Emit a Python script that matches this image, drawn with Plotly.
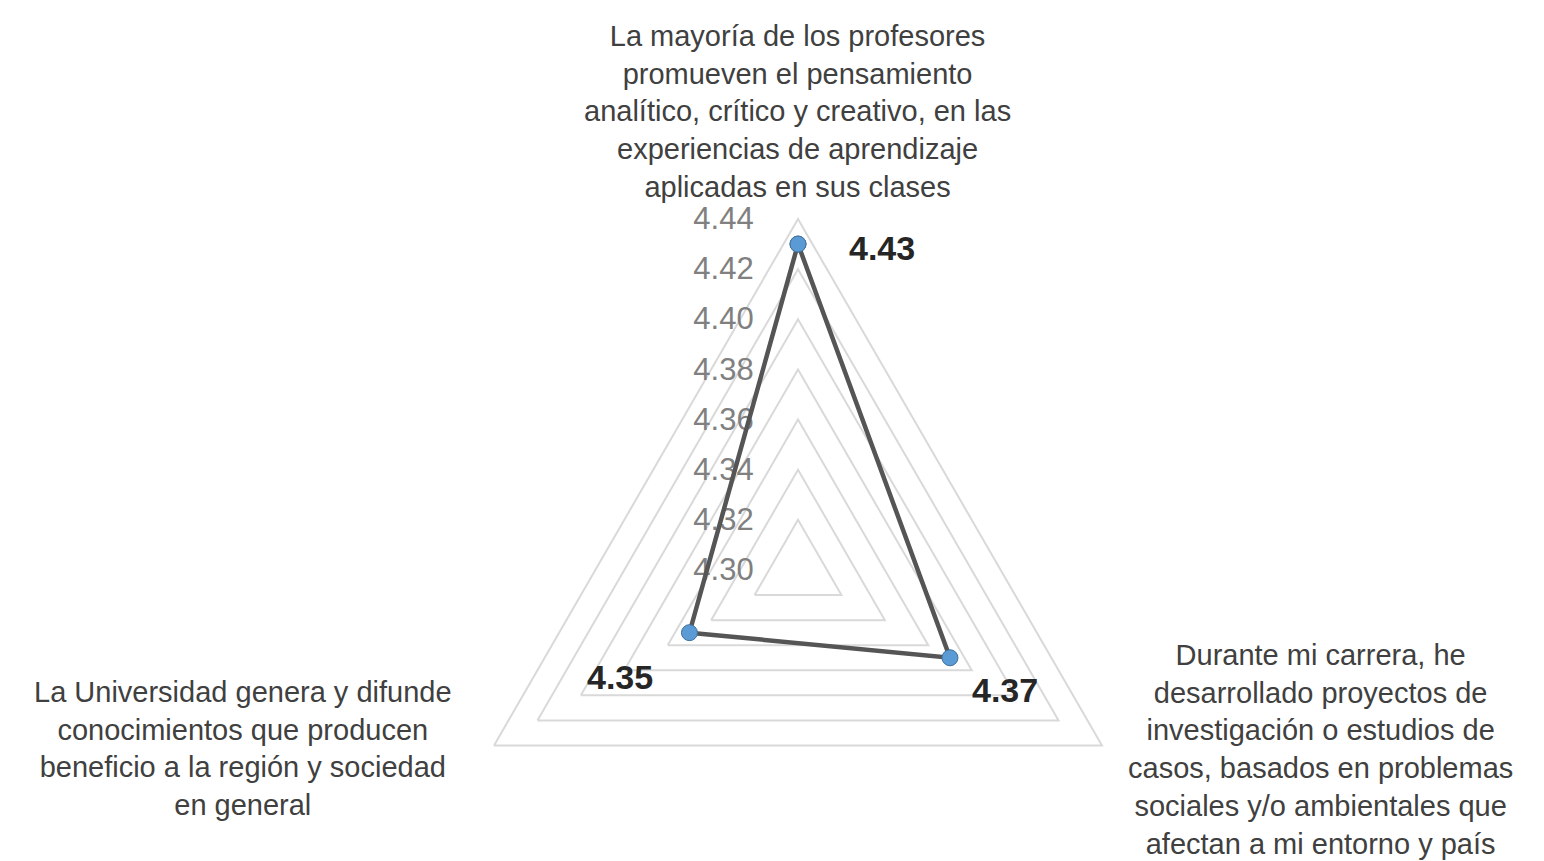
import plotly.graph_objects as go

# Survey items (one spoke each), mean scores and radial tick values
categories = [
    "La mayoría de los profesores<br>promueven el pensamiento<br>analítico, crítico y creativo, en las<br>experiencias de aprendizaje<br>aplicadas en sus clases",
    "Durante mi carrera, he<br>desarrollado proyectos de<br>investigación o estudios de<br>casos, basados en problemas<br>sociales y/o ambientales que<br>afectan a mi entorno y país",
    "La Universidad genera y difunde<br>conocimientos que producen<br>beneficio a la región y sociedad<br>en general",
]
scores = [4.43, 4.37, 4.35]
radial_ticks = [4.30, 4.32, 4.34, 4.36, 4.38, 4.40, 4.42, 4.44]
radial_labels = [f"{v:.2f}" for v in radial_ticks]

W, H = 1544, 930          # canvas is taller than the view; the extra strip is clipped
CX, CY, R = 798, 570, 351  # polar centre and radius in pixels


def px(x, y):
    """pixel position (from top-left) -> paper coordinates"""
    return x / W, 1 - y / H


FONT = "Liberation Sans, Arial, sans-serif"

fig = go.Figure()
fig.add_trace(go.Scatterpolar(
    r=scores + scores[:1],
    theta=categories + categories[:1],
    mode="lines+markers",
    line=dict(color="#555555", width=4.5),
    marker=dict(size=16, color="#5b9bd5", line=dict(color="#41719c", width=1)),
    showlegend=False,
    hoverinfo="skip",
))

x0, y1 = px(CX - R, CY - R)
x1, y0 = px(CX + R, CY + R)

fig.update_layout(
    width=W, height=H, autosize=False,
    margin=dict(l=0, r=0, t=0, b=0),
    paper_bgcolor="white",
    font=dict(family=FONT),
    polar=dict(
        domain=dict(x=[x0, x1], y=[max(y0, 0), y1]),
        gridshape="linear",
        bgcolor="white",
        radialaxis=dict(
            range=[radial_ticks[0], radial_ticks[-1]],
            tickvals=radial_ticks,
            ticktext=radial_labels,
            angle=90,
            side="counterclockwise",
            tickangle=90,
            ticks="outside",
            ticklen=33,
            tickcolor="rgba(0,0,0,0)",
            tickfont=dict(size=31, color="#808080", family=FONT),
            showline=False,
            gridcolor="#d9d9d9",
            gridwidth=2,
            layer="below traces",
        ),
        angularaxis=dict(
            type="category",
            direction="clockwise",
            rotation=90,
            showticklabels=False,
            ticks="",
            showgrid=False,
            showline=True,
            linecolor="#d9d9d9",
            linewidth=2,
            layer="below traces",
        ),
    ),
)

# category captions around the triangle
caption_pos = [(798, 111), (1320, 749), (243, 748)]
for text, (x, y) in zip(categories, caption_pos):
    ax_, ay_ = px(x, y)
    fig.add_annotation(
        x=ax_, y=ay_, xref="paper", yref="paper",
        text=text, showarrow=False, align="center",
        xanchor="center", yanchor="middle",
        font=dict(size=29, color="#404040", family=FONT),
    )

# value labels next to each point
value_pos = [(882, 248), (1005, 690), (620, 677)]
for v, (x, y) in zip(scores, value_pos):
    ax_, ay_ = px(x, y)
    fig.add_annotation(
        x=ax_, y=ay_, xref="paper", yref="paper",
        text=f"<b>{v:.2f}</b>", showarrow=False,
        xanchor="center", yanchor="middle",
        font=dict(size=34, color="#262626", family=FONT),
    )

clip_js = (
    "var gd=document.getElementById('{plot_id}');"
    "gd.style.height='861px';gd.style.overflow='hidden';"
    "document.documentElement.style.overflow='hidden';"
    "document.body.style.overflow='hidden';document.body.style.margin='0';"
)
fig.write_html("out.html", post_script=clip_js)
